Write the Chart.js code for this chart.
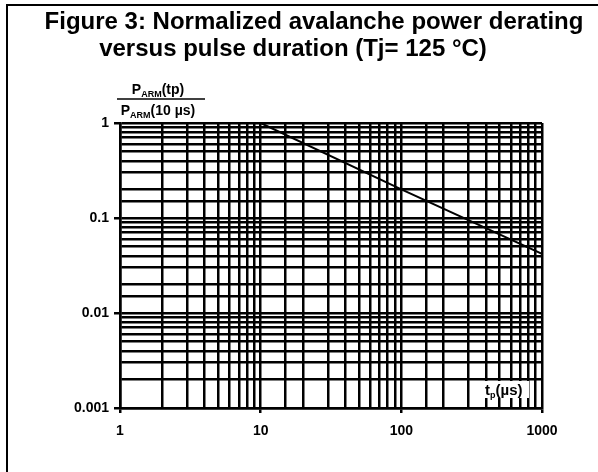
<!DOCTYPE html>
<html>
<head>
<meta charset="utf-8">
<script src="https://cdn.jsdelivr.net/npm/chart.js@4"></script>
<style>
html,body{margin:0;padding:0;background:#fff;}
#wrap{width:598px;height:472px;}
</style>
</head>
<body>
<div id="wrap"><canvas id="c" width="598" height="472"></canvas></div>
<script>
// ---- data ----
const titleLines = ["Figure 3: Normalized avalanche power derating", "versus pulse duration (Tj= 125 °C)"];
const xTickLabels = [1, 10, 100, 1000];
const yTickLabels = [0.001, 0.01, 0.1, 1];
const pulseDuration = [10, 100, 1000];        // tp (µs)
const powerRatio = [1, 0.2, 0.042];           // PARM(tp)/PARM(10 µs)

const FONT = "'Liberation Sans', Arial, Helvetica, sans-serif";

function isDecade(v, list) {
  return list.some(t => Math.abs(v - t) / t < 1e-6);
}

const decor = {
  id: 'decor',
  afterDraw(chart) {
    const ctx = chart.ctx;
    ctx.save();
    // frame (left + top)
    ctx.strokeStyle = '#000';
    ctx.lineWidth = 2;
    ctx.beginPath();
    ctx.moveTo(7, 480);
    ctx.lineTo(7, 5);
    ctx.lineTo(600, 5);
    ctx.stroke();

    // title
    ctx.fillStyle = '#000';
    ctx.textAlign = 'center';
    ctx.textBaseline = 'alphabetic';
    ctx.font = 'bold 24px ' + FONT;
    ctx.fillText(titleLines[0], 314, 29);
    ctx.fillText(titleLines[1], 293, 56);

    // y-axis label as a fraction
    function drawP(rest, cx, base) {
      ctx.font = 'bold 14px ' + FONT;
      const wP = ctx.measureText('P').width;
      const wR = ctx.measureText(rest).width;
      ctx.font = 'bold 9px ' + FONT;
      const wA = ctx.measureText('ARM').width;
      const total = wP + wA + wR;
      let x = cx - total / 2;
      ctx.textAlign = 'left';
      ctx.font = 'bold 14px ' + FONT;
      ctx.fillText('P', x, base);
      x += wP;
      ctx.font = 'bold 9px ' + FONT;
      ctx.fillText('ARM', x, base + 3);
      x += wA;
      ctx.font = 'bold 14px ' + FONT;
      ctx.fillText(rest, x, base);
    }
    drawP('(tp)', 158, 94);
    ctx.beginPath();
    ctx.lineWidth = 1.5;
    ctx.moveTo(117, 99);
    ctx.lineTo(205, 99);
    ctx.stroke();
    drawP('(10 µs)', 158, 115);

    // x-axis unit label with white box
    ctx.fillStyle = '#fff';
    ctx.fillRect(483, 381, 46, 17);
    ctx.fillStyle = '#000';
    ctx.textAlign = 'left';
    ctx.font = 'bold 15px ' + FONT;
    let x = 485;
    ctx.fillText('t', x, 395);
    x += ctx.measureText('t').width;
    ctx.font = 'bold 9px ' + FONT;
    ctx.fillText('p', x, 398);
    x += ctx.measureText('p').width;
    ctx.font = 'bold 15px ' + FONT;
    ctx.fillText('(µs)', x, 395);
    ctx.restore();
  }
};

new Chart(document.getElementById('c'), {
  type: 'scatter',
  data: {
    datasets: [{
      data: pulseDuration.map((t, i) => ({ x: t, y: powerRatio[i] })),
      showLine: true,
      borderColor: '#000',
      borderWidth: 2,
      pointRadius: 0,
      fill: false
    }]
  },
  options: {
    responsive: false,
    animation: false,
    devicePixelRatio: 1,
    layout: { padding: { top: 123, right: 56, bottom: 24, left: 0 } },
    plugins: { legend: { display: false }, tooltip: { enabled: false }, title: { display: false } },
    scales: {
      x: {
        type: 'logarithmic',
        min: 1, max: 1000,
        afterFit(s) { s.height = 40; },
        border: { display: true, color: '#000', width: 2.5 },
        grid: {
          color: '#000', lineWidth: 2.5, drawTicks: true, tickLength: 5,
          tickColor: c => (c.tick && isDecade(c.tick.value, xTickLabels)) ? '#000' : 'rgba(0,0,0,0)'
        },
        ticks: {
          autoSkip: false, maxRotation: 0, minRotation: 0, padding: 10,
          color: '#000', font: { family: FONT, size: 14, weight: 'bold' },
          callback: v => isDecade(v, xTickLabels) ? String(xTickLabels.find(t => Math.abs(v - t) / t < 1e-6)) : ''
        }
      },
      y: {
        type: 'logarithmic',
        min: 0.001, max: 1,
        afterFit(s) { s.width = 120; },
        border: { display: true, color: '#000', width: 2.5 },
        grid: {
          color: '#000', lineWidth: 2.5, drawTicks: true, tickLength: 6,
          tickColor: c => (c.tick && isDecade(c.tick.value, yTickLabels)) ? '#000' : 'rgba(0,0,0,0)'
        },
        ticks: {
          autoSkip: false, padding: 5,
          color: '#000', font: { family: FONT, size: 14, weight: 'bold' },
          callback: v => isDecade(v, yTickLabels) ? String(yTickLabels.find(t => Math.abs(v - t) / t < 1e-6)) : ''
        }
      }
    }
  },
  plugins: [decor]
});
</script>
</body>
</html>
